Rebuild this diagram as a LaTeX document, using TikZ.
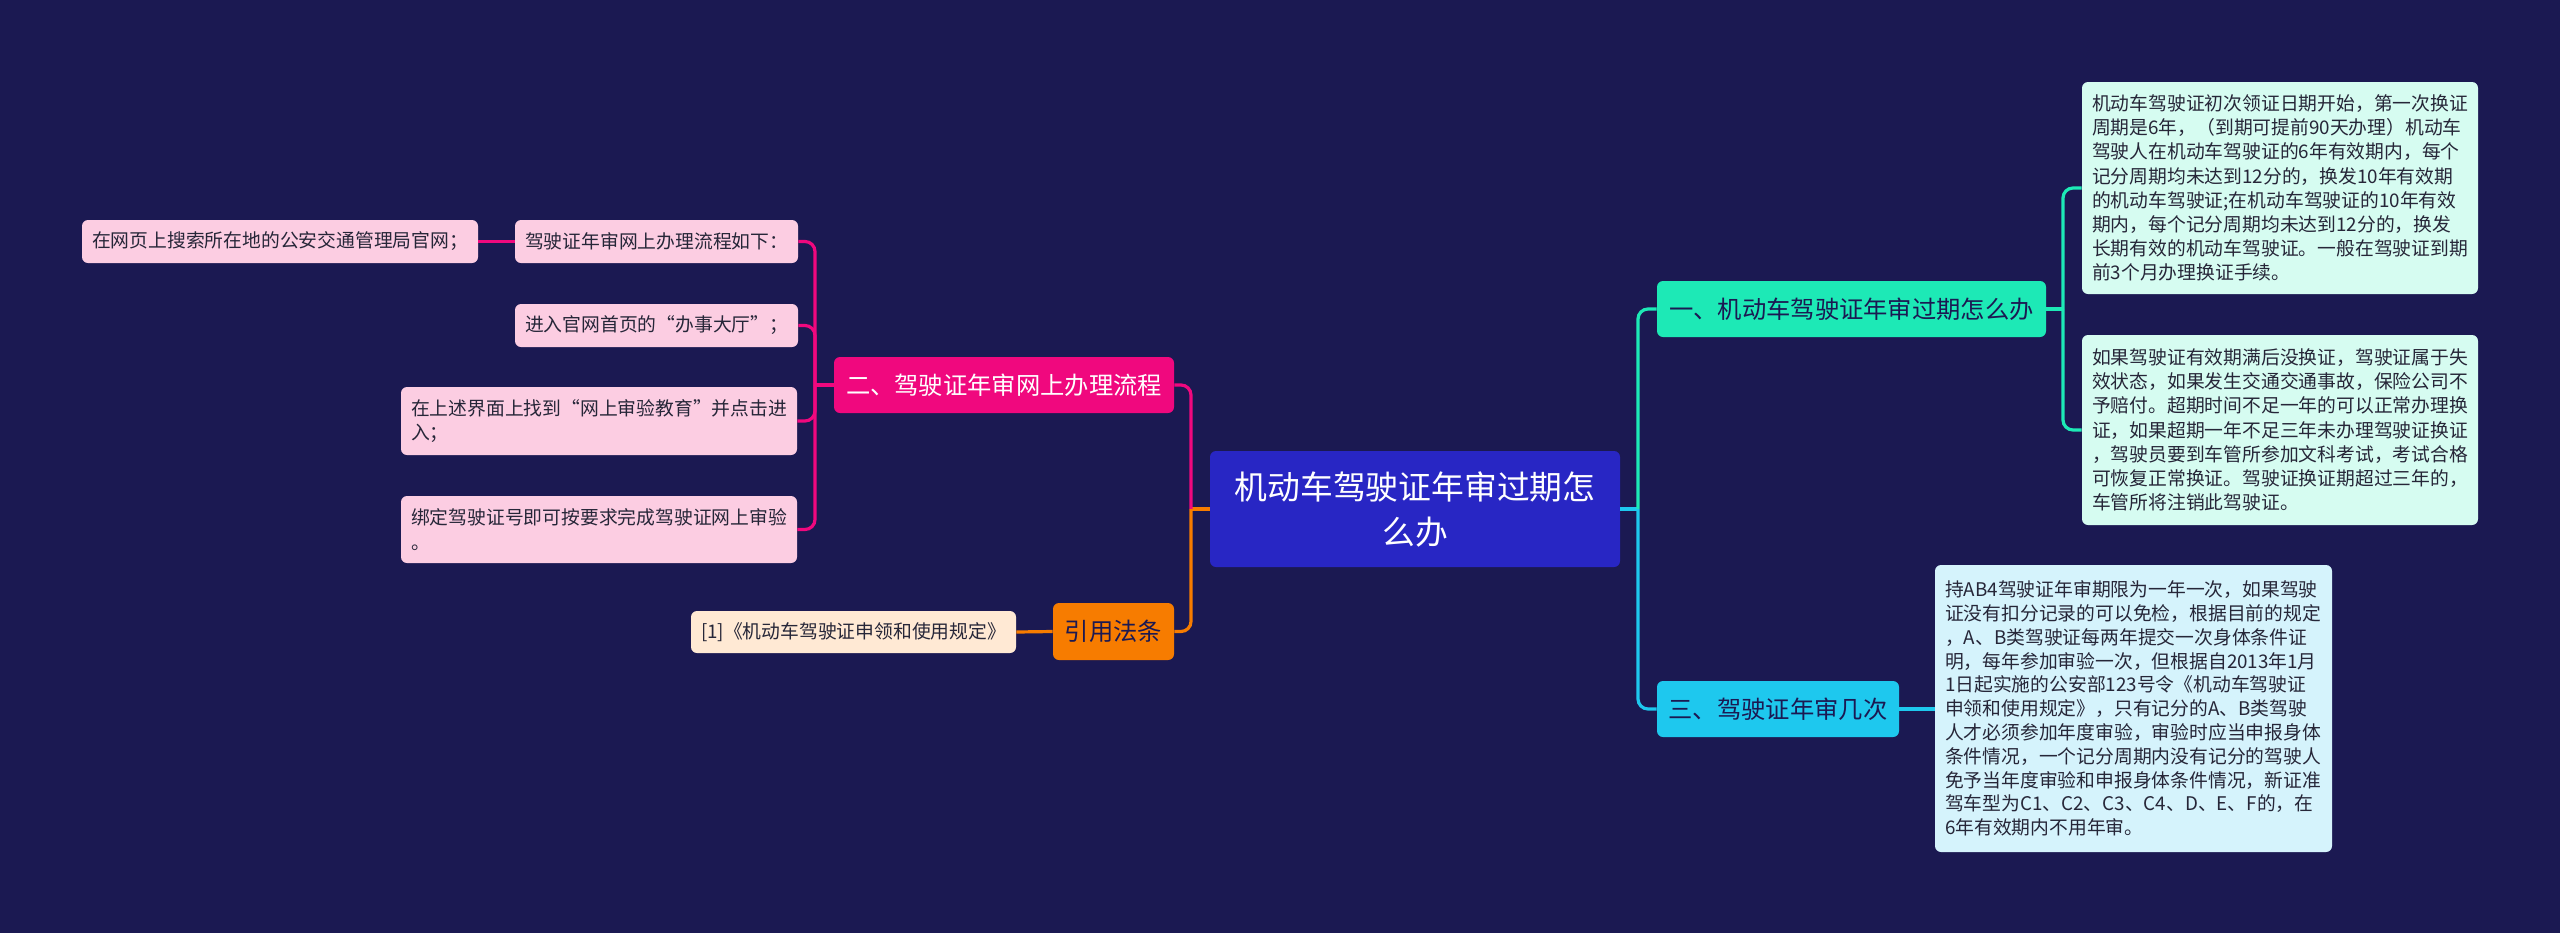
\documentclass[tikz,border=0pt]{standalone}
\usepackage{fontspec}
\setmainfont{Noto Sans CJK SC}
\definecolor{bgnavy}{RGB}{27,25,82}
\definecolor{rootblue}{RGB}{40,38,196}
\definecolor{mint}{RGB}{29,233,182}
\definecolor{skycyan}{RGB}{30,200,238}
\definecolor{rosered}{RGB}{240,8,126}
\definecolor{amber}{RGB}{247,124,0}
\definecolor{mintpale}{RGB}{214,252,241}
\definecolor{cyanpale}{RGB}{213,243,252}
\definecolor{rosepale}{RGB}{252,205,226}
\definecolor{amberpale}{RGB}{255,233,212}
\definecolor{inkdark}{RGB}{38,38,56}
\tikzset{
  note/.style={rounded corners=3pt,inner xsep=5pt,inner ysep=0pt,align=left,text=inkdark,
    font=\fontsize{9.4pt}{12.1pt}\selectfont},
  topic/.style={rounded corners=3pt,inner sep=0pt,align=center,minimum height=28pt,
    font=\fontsize{12.15pt}{15pt}\selectfont},
  link/.style={line width=1.6pt,rounded corners=5pt},
}
\begin{document}
\begin{tikzpicture}[x=0.5pt,y=-0.5pt]
  \useasboundingbox (0,0) rectangle (2560,933);
  \fill[bgnavy] (0,0) rectangle (2560,933);

  % centre topic
  \node[rounded corners=3pt,fill=rootblue,text=white,inner sep=0pt,align=center,
    minimum width=205pt,minimum height=58pt,font=\fontsize{16.4pt}{22.5pt}\selectfont]
    (root) at (1415,509) {机动车驾驶证年审过期怎\\么办};

  % right side
  \node[topic,fill=mint,text=bgnavy,minimum width=194.5pt] (b1) at (1851.5,309) {一、机动车驾驶证年审过期怎么办};
  \node[topic,fill=skycyan,text=bgnavy,minimum width=121pt] (b3) at (1778,709) {三、驾驶证年审几次};
  \node[note,fill=mintpale,text width=188pt,minimum height=106pt] (l1a) at (2280,188)
    {机动车驾驶证初次领证日期开始，第一次换证\\周期是6年，（到期可提前90天办理）机动车\\驾驶人在机动车驾驶证的6年有效期内，每个\\记分周期均未达到12分的，换发10年有效期\\的机动车驾驶证;在机动车驾驶证的10年有效\\期内，每个记分周期均未达到12分的，换发\\长期有效的机动车驾驶证。一般在驾驶证到期\\前3个月办理换证手续。};
  \node[note,fill=mintpale,text width=188pt,minimum height=95pt] (l1b) at (2280,430)
    {如果驾驶证有效期满后没换证，驾驶证属于失\\效状态，如果发生交通交通事故，保险公司不\\予赔付。超期时间不足一年的可以正常办理换\\证，如果超期一年不足三年未办理驾驶证换证\\，驾驶员要到车管所参加文科考试，考试合格\\可恢复正常换证。驾驶证换证期超过三年的，\\车管所将注销此驾驶证。};
  \node[note,fill=cyanpale,text width=188.5pt,minimum height=143.5pt,
    font=\fontsize{9.4pt}{11.9pt}\selectfont] (l3) at (2133.5,708.5)
    {持AB4驾驶证年审期限为一年一次，如果驾驶\\证没有扣分记录的可以免检，根据目前的规定\\，A、B类驾驶证每两年提交一次身体条件证\\明，每年参加审验一次，但根据自2013年1月\\1日起实施的公安部123号令《机动车驾驶证\\申领和使用规定》，只有记分的A、B类驾驶\\人才必须参加年度审验，审验时应当申报身体\\条件情况，一个记分周期内没有记分的驾驶人\\免予当年度审验和申报身体条件情况，新证准\\驾车型为C1、C2、C3、C4、D、E、F的，在\\6年有效期内不用年审。};

  % left side
  \node[topic,fill=rosered,text=white,minimum width=170pt] (b2) at (1004,385) {二、驾驶证年审网上办理流程};
  \node[topic,fill=amber,text=bgnavy,minimum width=60.5pt,minimum height=28.5pt] (b4) at (1113.5,631.5) {引用法条};
  \node[note,fill=rosepale,text width=131.5pt,minimum height=21.5pt] (s1) at (656.5,241.5) {驾驶证年审网上办理流程如下：};
  \node[note,fill=rosepale,text width=188pt,minimum height=21.5pt] (s0) at (280,241.5) {在网页上搜索所在地的公安交通管理局官网；};
  \node[note,fill=rosepale,text width=131.5pt,minimum height=21.5pt] (s2) at (656.5,325.5) {进入官网首页的“办事大厅”；};
  \node[note,fill=rosepale,text width=188pt,minimum height=34pt] (s3) at (599,421) {在上述界面上找到“网上审验教育”并点击进\\入；};
  \node[note,fill=rosepale,text width=188pt,minimum height=33.5pt] (s4) at (599,529.5) {绑定驾驶证号即可按要求完成驾驶证网上审验\\。};
  \node[note,fill=amberpale,text width=152.5pt,minimum height=21pt] (l4) at (853.5,632) {[1]《机动车驾驶证申领和使用规定》};

  % connectors
  \coordinate (rj) at (1638,509);
  \coordinate (lj) at (1191,509);
  \coordinate (b1j) at (2063,309);
  \coordinate (b2j) at (815,385);
  \draw[link,skycyan] (root.east) -- (rj);
  \draw[link,mint] (rj) |- (b1.west);
  \draw[link,skycyan] (rj) |- (b3.west);
  \draw[link,mint] (b1.east) -- (b1j);
  \draw[link,mint] (b1j) |- (l1a.west);
  \draw[link,mint] (b1j) |- (l1b.west);
  \draw[link,skycyan] (b3.east) -- (l3.west |- b3.east);
  \draw[link,amber] (root.west) -- (lj);
  \draw[link,rosered] (lj) |- (b2.east);
  \draw[link,amber] (lj) |- (b4.east);
  \draw[link,rosered] (b2.west) -- (b2j);
  \draw[link,rosered] (b2j) |- (s1.east);
  \draw[link,rosered] (b2j) |- (s2.east);
  \draw[link,rosered] (b2j) |- (s3.east);
  \draw[link,rosered] (b2j) |- (s4.east);
  \draw[link,rosered] (s1.west) -- (s0.east);
  \draw[link,amber] (b4.west) -- (l4.east);
\end{tikzpicture}
\end{document}
